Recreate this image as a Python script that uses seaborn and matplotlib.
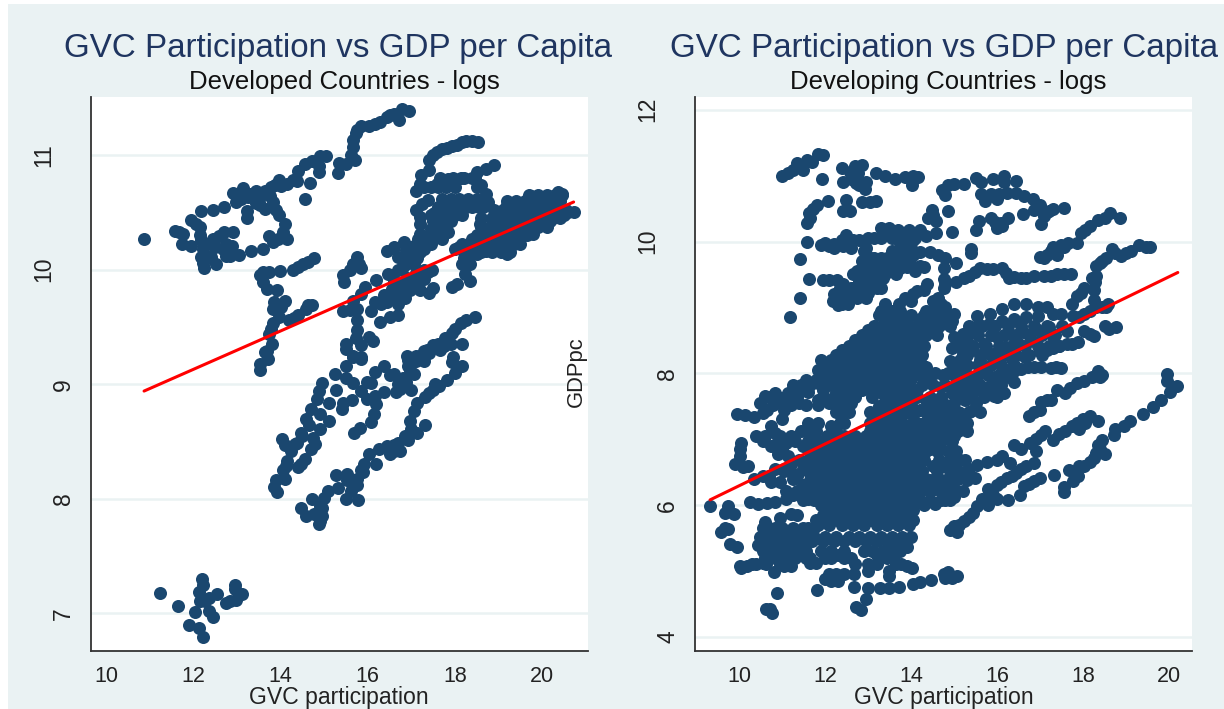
import matplotlib
matplotlib.use("Agg")
import matplotlib.pyplot as plt
import pandas as pd
import seaborn as sns
from matplotlib.patches import Rectangle

# values, (GVC participation, log GDP per capita)
dev_low = [(11.24,7.18),(11.65,7.06),(12.04,7.01),(11.91,6.9),(12.13,6.87),(12.22,6.79),(12.19,7.3),(12.22,7.25),
           (12.13,7.19),(12.15,7.11),(12.35,7.13),(12.55,7.17),(12.37,7.02),(12.44,6.97),(12.74,7.09),(12.96,7.25),
           (12.96,7.21),(12.98,7.12),(13.12,7.17),(12.27,7.11),(12.85,7.11)]
dev_left = [(10.87,10.27),(11.59,10.34),(11.68,10.33),(11.77,10.31),(11.75,10.22),(11.95,10.21),(11.95,10.43),
            (12.05,10.4),(12.18,10.51),(12.15,10.37),(12.16,10.3),(12.18,10.26),(12.22,10.18),(12.18,10.11),
            (12.24,10.01),(12.22,10.06),(12.4,10.11),(12.52,10.05),(12.44,10.27),(12.58,10.29),(12.71,10.33),
            (12.92,10.33),(12.67,10.18),(12.75,10.22),(12.89,10.21),(12.85,10.12),(13.04,10.13),(13.32,10.16),
            (12.46,10.52),(12.71,10.55),(12.98,10.59),(12.91,10.67),(13.14,10.71),(13.22,10.51),(13.22,10.45),
            (13.1,10.62),(13.25,10.63),(13.43,10.69),(13.43,10.58),(13.53,10.56),(13.65,10.53),(13.65,10.69),
            (13.75,10.64),(13.83,10.59),(13.78,10.72),(13.97,10.78),(13.88,10.74),(14.02,10.73),(14.15,10.75),
            (14.28,10.78),(14.37,10.77),(14.68,10.76),(14.57,10.62),(14.41,10.86),(14.57,10.92),(14.73,10.95),
            (14.89,10.85),(14.88,10.9),(14.91,10.99),(15.04,10.99),(13.9,10.52),(13.97,10.48),(14.1,10.4),
            (14.06,10.33),(14.15,10.27),(13.74,10.29),(13.6,10.18),(13.83,10.24),(13.95,10.27),(12.3,10.22),(12.5,10.2),
            (12.3,10.12),(12.75,10.12),(13.5,10.62),(13.3,10.66)]
dev_top = [(15.31,10.84),(15.35,10.93),(15.49,10.92),(15.71,10.96),(15.62,11.0),(15.67,11.07),(15.67,11.13),
           (15.72,11.19),(15.76,11.22),(15.85,11.25),(16.03,11.25),(16.16,11.27),(16.29,11.29),(16.43,11.33),(16.52,11.35),
           (16.61,11.36),(16.72,11.31),(16.79,11.4),(16.94,11.38)]
dev_strand_b = [(13.52,9.12),(13.52,9.18),(13.72,9.22),(13.65,9.28),(13.7,9.29),(13.81,9.35),(13.74,9.44),(13.78,9.48),
                (13.83,9.53),(13.97,9.59),(14.19,9.56),(14.3,9.58),(14.41,9.6),(14.59,9.66),(14.73,9.69),(14.62,9.69),
                (14.0,9.67),(13.83,9.66),(14.1,9.73),(13.92,9.82),(13.7,9.83),(13.6,9.89),(13.52,9.95),(13.74,9.98),
                (13.99,9.99),(14.28,10.0),(14.41,10.02),(14.64,10.07),(14.77,10.1),(14.52,10.05),(13.6,9.98),(13.85,9.72)]
dev_mid = [(15.76,10.11),(15.67,10.05),(15.85,10.01),(15.44,9.95),(15.46,9.89),(15.6,10.0),(15.8,10.05),(16.2,9.91),
           (15.94,9.85),(15.85,9.79),(15.67,9.73),(15.44,9.64),(15.76,9.66),(16.07,9.64),(16.16,9.72),(16.38,9.78),
           (16.56,9.83),(16.65,9.76),(16.7,9.6),(16.52,9.59),(16.29,9.54),(15.76,9.56),(15.76,9.47),(15.49,9.35),
           (15.49,9.31),(15.85,9.34),(16.03,9.41),(16.11,9.38),(15.67,9.25),(15.85,9.22),(15.6,9.65),(15.72,9.4),
           (16.47,9.96),(16.7,10.0),(16.88,10.05),(17.14,10.1),(16.7,10.11),(16.88,10.17),(16.43,10.16),(16.61,10.2),
           (16.83,10.24),(17.05,10.21),(17.28,10.24),(17.0,10.12),(17.28,10.0),(17.48,10.0),(17.1,9.91),(17.28,9.92),
           (16.97,9.82),(17.19,9.82),(17.41,9.8),(17.5,9.84),(16.9,9.93),(16.79,9.88),(16.85,9.75),(16.7,9.7),
           (17.38,9.98),(16.6,9.9),(16.95,10.1),(17.2,10.15),(16.3,9.7),(16.45,9.72),(16.6,9.78),(16.75,9.84),(16.9,9.9),
           (16.55,9.95),(16.8,10.02),(17.05,10.05),(16.95,10.2),(17.15,10.27),(17.3,10.18),(17.45,10.22),(17.1,9.97),(17.0,9.85)]
dev_lower = [(18.47,9.59),(18.26,9.56),(18.13,9.53),(18.0,9.48),(17.92,9.45),(17.77,9.4),(18.17,9.35),(17.9,9.35),
             (17.5,9.34),(17.28,9.29),(17.1,9.25),(16.92,9.21),(17.95,9.24),(17.65,9.3),(17.4,9.27),(17.2,9.22),
             (18.16,9.16),(18.0,9.1),(17.92,9.19),(17.82,9.04),(17.64,8.98),(17.5,8.95),(17.32,8.89),(17.14,8.84),
             (17.05,8.77),(16.97,8.68),(16.98,8.61),(17.31,8.64),(17.13,8.57),(16.92,8.51),(16.7,8.49),(16.74,8.42),
             (16.52,8.39),(16.43,8.46),(16.25,8.43),(16.2,8.3),(16.03,8.39),(15.91,8.3),(15.89,8.23),(15.76,8.17),
             (15.53,8.22),(15.26,8.21),(15.53,8.16),(15.76,8.12),(15.62,8.07),(15.49,8.0),(15.77,7.99),(15.31,8.09),
             (15.09,8.07),(15.0,8.01),(14.73,8.0),(14.91,7.94),(14.46,7.92),(14.59,7.85),(14.77,7.87),(14.95,7.85),
             (14.91,7.81),(14.88,7.78),(14.95,7.92),(16.6,8.42),(15.85,8.25),(17.35,9.3),(17.6,9.35),(17.75,9.33),(16.9,9.25),
             (17.0,9.1),(16.8,9.05),(16.7,9.0),(17.0,8.95),(17.4,8.92),(17.55,9.0),(17.1,9.2),(16.85,8.55),(16.6,8.47)]
dev_upper_diag = [(16.92,9.16),(17.05,9.09),(16.88,9.02),(16.65,8.93),(17.28,9.2),(17.05,9.2),(16.61,9.09),(16.52,9.08),
                  (16.37,9.16),(16.16,9.11),(16.38,8.93),(16.16,8.9),(15.98,9.02),(16.07,9.01),(15.85,8.94),(15.98,8.87),
                  (16.2,8.83),(16.14,8.74),(16.07,8.67),(15.82,8.62),(15.69,8.57),(16.75,8.96),(16.97,9.12),
                  (15.49,9.16),(15.24,9.09),(15.51,9.05),(15.67,9.01),(15.85,9.24),(15.67,9.24),(15.28,8.95),(14.95,9.01),
                  (14.88,8.94),(14.83,8.87),(15.11,8.84),(15.44,8.84),(15.4,8.78),(15.64,8.86),(14.91,8.74),(14.7,8.78),
                  (14.59,8.7),(14.66,8.64),(15.11,8.68),(14.91,8.61),(14.46,8.57),(14.75,8.53),(14.7,8.43),(14.37,8.49),
                  (14.03,8.52),(14.1,8.47),(14.23,8.42),(14.33,8.48),(14.55,8.35),(14.41,8.28),(14.15,8.33),(14.12,8.29),
                  (14.06,8.25),(14.1,8.17),(13.9,8.16),(13.85,8.1),(13.92,8.06),(14.8,8.48),(14.5,8.55),(14.47,8.3)]
dev_block = [(17.41,10.96),(17.41,10.87),(17.5,11.0),(17.59,11.03),(17.7,11.05),(17.82,11.06),(17.93,11.08),(18.04,11.09),(18.15,11.11),
             (18.26,11.12),(18.39,11.12),(18.53,11.11),(17.23,10.83),(17.19,10.75),(17.1,10.69),(17.28,10.72),(17.37,10.61),
             (17.25,10.57),(17.1,10.52),(17.19,10.46),(17.19,10.4),(17.19,10.31),(17.59,10.75),(17.85,10.79),(18.13,10.8),(18.4,10.8),
             (18.7,10.88),(18.9,10.91),(18.5,10.85),(18.6,10.74),(18.7,10.66),(18.76,10.59),(18.55,10.55),(18.26,10.55),(17.98,10.49),
             (17.75,10.55),(17.53,10.49),(17.75,10.43),(17.85,10.33),(17.63,10.3),(17.43,10.3),(17.45,10.72)]
dev_band = [(18.0,10.18),(18.09,10.2),(18.22,10.21),(18.31,10.11),(18.4,10.27),(18.5,10.14),(18.58,10.4),(18.6,10.3),
            (18.7,10.16),(19.16,10.55),(19.2,10.14),(19.74,10.64),(19.78,10.31),(20.19,10.42),(20.37,10.68),(20.46,10.66),
            (20.6,10.5),(20.72,10.5),(20.5,10.48),(18.17,10.05),(18.22,9.96),(18.34,9.9),(17.92,9.85),(18.04,9.87),(18.2,10.1),(18.35,10.05)]
# dense parts read row by row: (log GDP per capita, [GVC participation...])
dev_rows = [(10.15,[18.2,18.4,18.6,18.85,19.05,19.25]),(10.22,[18.15,18.35,18.55,18.75,18.95,19.15,19.35,19.5]),
            (10.3,[18.5,18.7,18.85,19.05,19.25,19.45,19.65]),(10.37,[18.6,18.8,19.0,19.2,19.35,19.55,19.75,19.9,20.1]),
            (10.45,[18.6,18.85,19.05,19.25,19.45,19.65,19.85,20.05,20.25,20.4]),(10.52,[18.9,19.1,19.3,19.5,19.7,19.9,20.1,20.35,20.55]),
            (10.6,[19.2,19.4,19.6,19.8,20.0,20.2,20.4]),(10.65,[19.7,19.9,20.1,20.3,20.45]),
            (10.8,[17.65,17.95,18.2,18.45]),(10.72,[17.6,17.8,18.0,18.5]),(10.62,[17.7,17.9,18.1,18.3,18.5,18.65]),
            (10.55,[17.6,17.8,18.0,18.2,18.4,18.65]),(10.48,[17.45,17.6,17.8,18.0,18.15]),(10.42,[17.5,17.7,17.9]),
            (10.35,[17.45,17.65,17.8]),(10.27,[17.3,17.5,17.7])]
dev_fit_x = [10.87, 20.72]
dev_fit_y = [8.94, 10.59]

dvg_top = [(11.0,10.99),(11.13,11.04),(11.25,11.08),(11.36,11.19),(11.5,11.09),(11.59,11.24),(11.7,11.2),(11.83,11.33),
           (11.95,11.31),(11.92,10.95),(12.4,11.12),(12.69,11.15),(12.86,11.16),(12.77,11.04),(12.42,10.91),(12.72,10.89),
           (12.6,10.95),(12.95,10.91),(12.92,10.8),(12.8,10.85),(13.18,11.04),(13.4,10.99),(13.63,10.95),(13.86,10.98),
           (14.04,11.0),(14.17,10.98),(14.02,10.85),(14.72,10.78),(14.78,10.7),(14.99,10.88),(15.22,10.87),(15.51,10.96),
           (15.63,10.9),(15.9,10.95),(16.15,10.99),(16.15,10.91),(16.44,10.92),(15.63,10.72),(15.72,10.62),(15.99,10.65),
           (15.85,10.72),(16.22,10.74),(16.44,10.74),(16.62,10.69),(16.83,10.65),(17.0,10.56),(16.85,10.48),(17.3,10.49),
           (17.55,10.51),(17.08,10.38),(17.01,10.26),(16.6,10.41),(16.26,10.36),(16.12,10.23),(15.99,10.21),(15.85,10.36),
           (15.58,10.31),(15.51,10.17),(11.59,9.99),(11.59,10.28),(11.63,10.43),(11.81,10.56),(12.07,10.61),(12.5,10.63),
           (12.42,10.46),(12.59,10.47),(12.86,10.6),(13.18,10.61),(13.05,10.6),(14.49,10.48),(14.87,10.47),(14.4,10.35),
           (14.58,10.31),(14.58,10.13),(14.95,10.15),(14.22,10.18),(14.04,10.02),(15.95,10.3),(17.15,10.45),(12.58,11.05),
           (11.72,10.5),(11.65,10.35),(14.5,10.4),(14.85,10.85),(16.05,10.72),(16.1,10.28),(17.2,10.47)]
dvg_outliers = [(11.41,9.74),(11.62,9.43),(11.43,9.14),(11.19,8.86)]
dvg_row10 = [(11.9,9.95),(12.1,9.93),(12.3,9.95),(12.5,10.1),(12.6,9.9),(12.8,10.03),(13.0,10.06),(13.15,10.05),(13.3,10.2),
             (13.5,10.2),(13.7,10.18),(13.95,10.18),(14.2,10.15),(13.3,10.05),(13.55,10.05),(13.75,9.98),(13.9,9.95),
             (13.95,10.05),(14.1,10.05),(12.95,9.9),(13.55,9.85),(13.75,9.85),(13.95,9.82),(14.22,9.84),(14.44,9.84),
             (14.62,9.8),(14.8,9.75),(15.05,9.68),(15.4,9.83),(15.4,9.88),(14.76,9.6),(14.76,9.43),(14.76,9.3),
             (12.0,9.98),(12.2,9.96),(12.4,10.02),(12.65,10.02),(12.2,9.9),(12.42,9.93),(13.4,10.12),(13.65,10.1),(13.85,10.1),
             (14.35,10.08),(14.0,9.9),(13.85,9.9),(13.8,9.78)]
dvg_upper_blob = [(11.95,9.42),(12.27,9.42),(12.41,9.35),(12.22,9.2),(12.18,9.1),(12.31,9.03),(12.54,9.05),(12.59,9.17),
                  (12.35,9.1),(12.45,9.15),(12.8,9.25),(12.8,9.4),(12.75,9.55),(12.95,9.65),(12.9,9.85),(13.15,9.75),
                  (13.15,9.55),(13.0,9.4),(13.0,9.22),(13.2,9.3),(13.35,9.45),(13.5,9.55),(13.75,9.6),(14.0,9.65),
                  (14.2,9.63),(13.45,9.75),(13.4,9.62),(13.75,9.75),(14.31,9.27),(14.36,9.35),(14.04,9.2),(13.86,9.15),
                  (14.15,9.25),(13.72,9.05),(13.4,9.05),(13.55,8.95),(14.63,9.15),(14.58,8.97),(14.7,9.05),(14.99,8.9),
                  (14.95,8.8),(14.72,8.85),(14.5,8.85),(13.54,8.87),(13.86,8.82),(14.2,8.82),(12.65,9.3),(12.95,9.5),(13.1,9.42),
                  (13.25,9.62),(13.25,9.42),(12.85,9.7),(13.05,9.75),(12.5,9.2),(12.4,9.05),(13.85,9.68),(14.1,9.55),(14.05,9.8),
                  (12.1,9.42),(12.35,9.3),(13.05,9.3),(14.0,9.1),(14.8,9.0)]
dvg_mid_right = [(16.99,9.77),(17.1,9.75),(17.15,9.8),(17.3,9.85),(17.4,9.8),(17.49,9.95),(17.3,9.92),(17.65,9.97),(17.85,9.98),
                 (17.94,10.13),(18.05,10.17),(18.17,10.23),(18.35,10.33),(18.5,10.35),(18.62,10.43),(18.85,10.36),
                 (18.89,9.78),(19.12,9.85),(19.3,9.95),(19.56,9.91),(18.67,9.88),(18.53,9.75),(18.4,9.68),(18.3,9.63),
                 (18.3,9.48),(18.28,9.38),(18.26,9.27),(18.26,9.12),(18.58,9.05),(18.45,9.0),(18.03,9.3),(17.95,9.22),
                 (17.85,9.17),(17.75,9.05),(17.71,9.5),(17.4,9.5),(17.1,9.48),(16.67,9.45),(16.85,9.47),(16.4,9.46),
                 (16.27,9.45),(16.2,9.52),(16.12,9.6),(15.76,9.58),(15.49,9.53),(15.22,9.45),(15.04,9.38),(14.8,9.35),
                 (15.6,9.6),(18.45,9.7),(18.75,9.82),(19.0,9.82),(19.45,9.92),(17.25,9.85),(17.4,9.9),(17.55,9.92),(18.2,9.45),
                 (17.25,9.48),(16.55,9.45),(15.35,9.47),(15.9,9.58),(17.55,9.5)]
dvg_strip = [(18.76,8.7),(18.5,8.72),(18.26,8.57),(18.03,8.64),(17.89,8.47),(17.62,8.44),(17.3,8.39),(16.99,8.34),(17.62,8.64),
             (17.3,8.57),(18.53,9.0),(18.31,9.0),(18.03,8.9),(17.76,8.87),(17.49,8.9),(17.17,9.0),(16.94,9.0),(16.67,9.05),
             (16.4,9.05),(16.12,8.97),(15.83,8.9),(15.53,8.87),(17.3,8.9),(16.94,8.87),(16.67,8.85),(16.4,8.82),(16.12,8.8),
             (15.81,8.75),(15.5,8.7),(15.2,8.6),(17.5,8.72),(17.2,8.7),(16.9,8.68),(16.6,8.62),(16.3,8.6),(16.0,8.55),
             (15.7,8.45),(15.4,8.35),(15.2,8.3),(16.8,8.5),(16.5,8.45),(16.2,8.4),(15.9,8.3),(15.6,8.2),(16.65,8.25),
             (16.35,8.22),(16.05,8.15),(15.75,8.05),(15.45,7.95),(16.2,8.05),(15.95,7.95),(15.6,7.8),(18.35,8.03),(18.44,7.98),
             (18.2,7.95),(18.03,7.89),(17.85,7.85),(17.58,7.7),(17.39,7.75),(17.26,7.6),(17.03,7.57),(16.99,7.45),(16.74,7.36),
             (17.49,8.08),(17.25,8.08),(17.03,8.1),(16.71,8.1),(16.4,8.03),(16.2,7.95),(16.4,7.87),(16.17,7.7),(15.94,7.65),
             (18.6,8.68),(18.15,8.6),(17.75,8.45),(17.45,8.42),(17.15,8.35),(18.15,8.95),(17.9,8.85),(18.4,7.95),(17.7,7.78),
             (17.15,7.6),(16.85,7.42),(17.37,8.1),(16.85,8.1),(16.55,8.07)]
dvg_fan = [(14.9,5.62),(15.08,5.59),(15.22,5.76),(15.35,5.82),(15.45,5.88),(15.53,5.98),(15.8,6.0),(15.99,6.1),(16.26,6.08),
           (15.8,6.24),(15.99,6.31),(16.22,6.41),(16.44,6.49),(16.67,6.59),(16.85,6.64),(16.53,6.16),(16.62,6.29),
           (16.85,6.36),(16.99,6.41),(17.33,6.46),(17.55,6.2),(17.55,6.28),(17.76,6.36),(17.67,6.53),(17.9,6.59),(17.88,6.45),
           (18.17,6.66),(18.31,6.79),(18.5,6.78),(18.35,6.92),(18.44,6.99),(18.71,7.07),(18.73,7.15),(18.94,7.2),(19.1,7.28),
           (19.39,7.38),(19.62,7.49),(19.8,7.6),(20.03,7.72),(19.96,7.89),(19.96,7.99),(20.19,7.81),(16.4,6.92),(16.3,6.64),
           (16.12,6.74),(16.55,6.85),(16.76,6.94),(16.9,7.0),(17.03,7.07),(17.12,7.12),(17.3,6.99),(17.45,7.08),(17.58,7.12),
           (17.85,7.24),(17.9,7.15),(18.17,7.36),(18.35,7.28),(18.05,7.25),(15.99,6.69),(15.76,6.66),(15.53,6.61),(15.13,6.69),
           (15.22,6.51),(15.49,6.41),(15.35,6.55),(16.9,6.82),(15.65,6.1),(15.9,6.15),(16.1,6.35),(16.35,6.45),(16.55,6.55),
           (15.0,5.68),(15.12,5.7),(16.75,6.32),(17.75,7.2),(18.0,7.3),(18.25,6.72),(18.4,6.85),(18.02,6.6)]
dvg_edge = [(9.32,5.99),(9.75,5.99),(9.68,5.88),(9.88,5.86),(9.59,5.6),(9.75,5.64),(9.67,5.65),(9.79,5.41),(9.95,5.37),
            (10.03,5.08),(10.2,5.08),(10.4,5.1),(10.64,5.1),(10.82,4.99),(11.05,5.08),(11.21,5.08),(10.88,4.67),(10.64,4.43),
            (10.77,4.36),(10.72,4.43),(11.81,4.72),(12.0,4.88),(12.15,4.85),(12.3,4.85),(12.68,4.95),(12.68,4.76),(12.72,4.45),
            (12.83,4.41),(12.95,4.57),(13.01,4.75),(13.27,4.75),(13.5,4.75),(13.72,4.76),(14.04,4.8),(14.22,4.84),(14.47,4.87),
            (14.76,4.95),(14.95,4.9),(15.08,4.93),(13.0,5.0),(13.5,4.93),(13.45,5.2),(13.77,5.1),(14.02,5.05),(13.0,5.1),
            (9.95,7.38),(10.15,7.37),(10.35,7.33),(10.05,6.95),(10.02,6.85),(10.03,6.75),(9.9,6.63),(10.1,6.58),(10.22,6.6),
            (10.4,7.05),(10.6,7.05),(10.85,7.1),(10.95,7.05),(11.2,7.05),(10.75,7.2),(10.5,7.55),(10.6,7.65),(10.65,7.45),
            (10.85,7.7),(11.05,7.55),(11.15,7.7),(11.3,7.65),(11.5,7.75),(11.4,7.55),(11.0,7.3),(11.05,7.45),(10.75,6.9),(11.0,6.85),
            (11.15,6.75),(10.85,6.55),(11.2,6.5),(11.5,6.55),(10.35,6.4),(10.55,6.45),(10.75,6.35),(10.95,6.35),(11.25,6.4),
            (10.25,6.05),(10.45,6.02),(10.65,6.03),(10.85,6.05),(11.1,6.1),(11.25,6.15),(10.6,5.75),(10.95,5.8),(11.2,5.87),
            (11.35,5.85),(10.05,5.05),(10.3,5.1),(10.55,5.12),(10.95,5.1),(11.65,5.12),(12.1,4.95),(12.25,4.95),(12.45,4.95),
            (13.65,5.1),(13.9,5.08),(13.5,5.0),(13.2,5.1),(14.8,4.9),(14.85,4.98),(10.9,6.78),(10.7,6.45),(11.05,6.55),(11.2,6.62),
            (11.3,7.72),(10.95,7.62),(10.75,7.62),(10.55,7.4),(10.9,6.98),(11.1,6.95),(11.35,6.45)]
dvg_blob_1 = [(10.6,5.55),(10.85,5.65),(11.1,5.6),(11.35,5.6),(11.6,5.65),(11.85,5.7),(12.1,5.7),(12.4,5.7),(12.65,5.7),(12.9,5.7),
              (13.2,5.7),(13.45,5.7),(13.7,5.7),(13.95,5.7),(10.45,5.4),(10.7,5.4),(10.95,5.4),(11.2,5.4),(11.45,5.4),(11.7,5.45),
              (11.95,5.45),(12.2,5.45),(12.45,5.45),(12.7,5.45),(12.95,5.45),(13.2,5.45),(13.45,5.45),(13.7,5.42),(13.9,5.37),
              (10.7,5.25),(10.95,5.25),(11.4,5.25),(11.65,5.2),(11.8,5.12),(12.0,5.2),(12.3,5.25),(12.6,5.2),(12.7,5.1),(13.2,5.25),
              (13.6,5.25),(13.75,5.3),(11.95,5.85),(12.2,5.85),(12.45,5.85),(12.7,5.85),(12.95,5.85),(13.2,5.85),(13.45,5.85),
              (13.7,5.85),(13.95,5.85),(11.9,6.0),(12.15,6.0),(12.4,6.0),(12.65,6.0),(12.9,6.0),(13.15,6.0),(13.4,6.0),(13.65,6.0),
              (13.95,6.0),(14.1,6.05),(11.6,6.1),(11.85,6.15),(12.1,6.15),(12.35,6.15),(12.6,6.15),(12.85,6.15),(13.1,6.15),(13.35,6.15),
              (13.6,6.15),(13.85,6.15),(14.05,6.15),(14.3,6.0),(14.55,6.02),(14.8,6.08),(15.0,6.12),(11.5,6.3),(11.75,6.3),(12.0,6.3),
              (12.25,6.3),(12.5,6.3),(12.75,6.3),(13.0,6.3),(13.25,6.3),(13.5,6.3),(13.75,6.3),(14.0,6.3),(14.3,6.25),(14.55,6.25),
              (14.8,6.25),(15.0,6.25),(11.8,6.45),(12.05,6.45),(12.3,6.45),(12.55,6.45),(12.8,6.45),(13.05,6.45),(13.3,6.45),(13.55,6.45),
              (13.8,6.45),(14.05,6.45),(14.35,6.4),(14.6,6.4),(14.85,6.4),(15.1,6.4),(11.85,6.6),(12.1,6.6),(12.35,6.6),(12.6,6.6),
              (12.85,6.6),(13.1,6.6),(13.35,6.6),(13.6,6.6),(13.85,6.6),(14.15,6.6),(14.5,6.6),(14.75,6.6),(15.0,6.55),(11.95,6.75),
              (12.2,6.75),(12.45,6.75),(12.7,6.75),(12.95,6.75),(13.2,6.75),(13.45,6.75),(13.7,6.75),(13.95,6.75),(14.2,6.75),(14.45,6.85),
              (14.7,6.85),(14.95,6.85)]
dvg_blob_2 = [(11.5,6.9),(11.75,6.9),(12.0,6.9),(12.25,6.9),(12.5,6.9),(12.75,6.9),(13.0,6.9),(13.25,6.9),(13.5,6.9),(13.75,6.9),
              (14.0,6.9),(14.25,6.95),(14.55,7.0),(14.8,7.05),(15.0,7.05),(11.65,7.1),(12.05,7.05),(12.45,7.05),(12.7,7.05),(12.95,7.05),
              (13.2,7.05),(13.45,7.05),(13.7,7.05),(13.95,7.05),(14.2,7.1),(14.45,7.15),(14.7,7.2),(14.95,7.2),(15.2,7.3),
              (12.15,7.2),(12.35,7.25),(13.15,7.2),(13.4,7.2),(13.65,7.2),(13.9,7.2),(14.15,7.25),(14.4,7.3),
              (14.65,7.35),(14.9,7.35),(15.15,7.4),(15.4,7.43),(13.2,7.38),(13.45,7.38),
              (13.7,7.38),(13.95,7.4),(14.2,7.45),(14.5,7.5),(14.75,7.55),(15.0,7.55),(15.25,7.6),(15.5,7.55),(11.85,7.6),(12.1,7.55),
              (12.35,7.55),(12.6,7.55),(13.25,7.5),(13.5,7.55),(13.75,7.55),(14.0,7.55),(14.35,7.6),(14.95,7.7),(15.25,7.72),(15.5,7.75),
              (15.75,7.68),(15.9,7.7),(11.6,7.72),(11.95,7.75),(12.25,7.7),(12.55,7.75),(12.85,7.75),(13.1,7.7),(13.35,7.7),(13.6,7.7),
              (13.85,7.72),(14.15,7.75),(14.7,7.8),(15.15,7.85),(15.45,7.9),(11.55,7.9),(11.8,7.9),(12.05,7.9),(12.3,7.9),(12.55,7.9),
              (12.8,7.9),(13.05,7.9),(13.3,7.9),(13.55,7.9),(13.8,7.9),(14.0,7.92),(14.3,7.95),(14.55,8.0),(14.85,8.0),(15.1,8.05),
              (11.85,8.05),(12.1,8.05),(12.35,8.05),(12.6,8.05),(12.85,8.05),(13.1,8.05),(13.35,8.05),(13.6,8.05),(13.85,8.05),(14.1,8.05),
              (14.35,8.1),(14.9,8.18),(15.15,8.2),(11.9,8.2),(12.15,8.2),(12.4,8.2),(12.65,8.2),(12.9,8.2),(13.15,8.2),(13.4,8.2),(13.65,8.2),
              (13.9,8.2),(14.15,8.22),(12.4,8.35),(12.65,8.35),(12.9,8.35),(13.15,8.35),(13.4,8.35),(13.65,8.35),(13.9,8.35),(14.15,8.38),
              (14.95,8.38),(15.2,8.45),(12.7,8.5),(12.95,8.5),(13.2,8.5),(13.45,8.5),(13.7,8.5),(13.95,8.5),(14.2,8.55),(15.0,8.55),
              (15.3,8.55),(13.0,8.65),(13.25,8.65),(13.5,8.65),(13.75,8.65),(14.0,8.65),(14.25,8.7),(14.5,8.68),(13.4,8.78),(13.65,8.78),
              (13.9,8.78)]
dvg_rows = [(5.2,[10.6,10.85,11.1,11.3,11.55,12.15,12.45]),
            (5.3,[10.55,10.8,11.05,11.3,11.55,11.9,12.15,12.45,12.9,13.1,13.35,13.55]),
            (5.52,[10.5,10.75,11.0,11.25,11.5,11.75,12.0,12.25,12.55,12.8,13.05,13.3,13.55,13.8,14.0]),
            (5.65,[10.55,10.7,11.0,11.25,11.5,11.75]),
            (5.78,[11.8,12.05,12.3,12.55,12.8,13.05,13.3,13.55,13.8,14.05]),
            (5.92,[12.05,12.3,12.55,12.8,13.05,13.3,13.55,13.8,14.05]),
            (6.08,[11.5,11.75,12.0,12.25,12.5,12.75,13.0,13.25,13.5,13.75,14.0,14.2,14.45,14.7,14.9]),
            (6.22,[11.1,11.35,11.55,11.7,11.95,12.2,12.45,12.7,12.95,13.2,13.45,13.7,13.95,14.2,14.45,14.7,14.95,15.2]),
            (6.38,[11.65,11.9,12.15,12.4,12.65,12.9,13.15,13.4,13.65,13.9,14.2,14.45,14.7,14.95,15.3]),
            (6.52,[11.05,11.6,11.95,12.2,12.45,12.7,12.95,13.2,13.45,13.7,13.95,14.25,14.6,14.9,15.1]),
            (6.68,[11.4,11.6,11.75,12.0,12.25,12.5,12.75,13.0,13.25,13.5,13.75,14.0,14.3,14.65,14.9,15.25]),
            (6.82,[11.65,11.85,12.1,12.35,12.6,12.85,13.1,13.35,13.6,13.85,14.1,14.35,14.6,14.85,15.05]),
            (6.97,[10.55,11.3,11.6,11.85,12.15,12.4,12.6,12.85,13.1,13.35,13.6,13.85,14.1,14.4,14.7,14.95]),
            (7.12,[11.45,11.55,11.8,12.25,13.05,13.3,13.55,13.8,14.05,14.3,14.6,14.85,15.1,15.3]),
            (7.25,[11.6,11.85,12.45,13.05,13.3,13.55,13.8,14.05,14.3,14.55,14.8,15.05,15.3]),
            (7.42,[12.25,12.45,12.55,13.05,13.35,13.6,13.85,14.1,14.35,14.6,14.85,15.1,15.35,15.6]),
            (7.52,[10.8,11.2,11.55,11.85]),
            (7.64,[10.7,11.1,11.35,11.95,12.2,12.45,12.7,13.1,13.4,13.65,13.9,14.15,14.45,14.7,15.1,15.4,15.7,16.0]),
            (7.82,[11.25,11.45,11.65,11.9,12.15,12.4,12.7,12.95,13.2,13.45,13.7,13.95,14.25,14.5,14.8,15.05,15.3,15.6,15.85,16.1]),
            (7.98,[11.95,12.2,12.45,12.7,12.95,13.2,13.45,13.7,13.95,14.2,14.45,14.75,15.0,15.3,15.55,15.8,16.05]),
            (8.12,[12.0,12.25,12.5,12.75,13.0,13.25,13.5,13.75,14.0,14.25,15.05,15.3,15.55,15.85,16.1,16.4]),
            (8.28,[12.25,12.5,12.75,13.0,13.25,13.5,13.75,14.0,14.25,15.3,15.6,15.85,16.15,16.45,16.75,17.05]),
            (8.42,[12.55,12.8,13.05,13.3,13.55,13.8,14.05,14.3,15.1,15.45,15.75,16.05,16.35,16.65,16.95,17.2,17.45]),
            (8.58,[12.85,13.1,13.35,13.6,13.85,14.1,14.35,14.6,15.3,15.55,15.85,16.15,16.45,16.75,17.05,17.35]),
            (8.72,[13.15,13.4,13.65,13.9,14.15,14.4,14.65,14.9,15.35,15.65,15.95,16.25,16.55,16.85,17.15]),
            (8.88,[13.25,13.5,13.75,14.0,14.3,14.6,14.85]),(8.95,[13.3,13.75,14.35,14.8]),
            (9.1,[14.5,14.55]),(9.15,[12.75,12.95]),(9.3,[12.6,12.85,13.1,13.3]),(9.5,[12.65,12.9,13.15,13.4,13.65]),
            (9.62,[13.05,13.3,13.6,13.9,14.3]),(9.75,[13.05,13.3,13.55])]
dvg_fit_x = [9.33, 20.2]
dvg_fit_y = [6.08, 9.53]

panel_bg = "#EAF2F3"
navy = "#1A476F"
title_navy = "#1F3560"
ink = "#222222"
xticks = [10, 12, 14, 16, 18, 20]


def to_frame(groups, rows):
    points = [p for g in groups for p in g]
    points += [(x, y) for y, xs in rows for x in xs]
    return pd.DataFrame(points, columns=["gvc", "gdp"])


def draw_panel(ax, data, fit_x, fit_y, xlim, ylim, yticks):
    sns.scatterplot(data=data, x="gvc", y="gdp", color=navy, s=88, linewidth=0, ax=ax, zorder=3, clip_on=False)
    sns.lineplot(x=fit_x, y=fit_y, color="#FF0000", linewidth=2.2, ax=ax, zorder=4)
    ax.set_xlim(xlim)
    ax.set_ylim(ylim)
    ax.set_xticks(xticks)
    ax.set_yticks(yticks)
    ax.grid(False)
    ax.yaxis.grid(True, color=panel_bg, linewidth=1.8, zorder=1)
    ax.set_axisbelow(True)
    ax.spines["top"].set_visible(False)
    ax.spines["right"].set_visible(False)
    for side in ("left", "bottom"):
        ax.spines[side].set_color("#333333")
        ax.spines[side].set_linewidth(1.3)
    ax.tick_params(axis="x", length=6, width=1.2, color="#333333", labelsize=15.5, labelcolor=ink, pad=5)
    ax.tick_params(axis="y", length=7, width=1.2, color="#333333", labelsize=16.5, labelcolor=ink)
    # the two digit labels sit further out than the one digit ones
    for tick, value in zip(ax.yaxis.get_major_ticks(), yticks):
        tick.set_pad(19 if value >= 10 else 4.5)
        tick.label1.set_rotation(90)
        tick.label1.set_va("center")
    ax.set_xlabel("GVC participation", fontsize=16.6, color=ink, labelpad=0)
    ax.set_ylabel("")


sns.set_style("white")
plt.rcParams["font.family"] = ["Liberation Sans", "DejaVu Sans"]

W, H = 1224, 709
fig = plt.figure(figsize=(W / 100, H / 100), dpi=100, facecolor="white")
fig.add_artist(Rectangle((8 / W, 0), 1 - 8 / W, 1 - 4 / H, transform=fig.transFigure, facecolor=panel_bg, edgecolor="none", zorder=-5))

ax1 = fig.add_axes([91.3 / W, 58.3 / H, 496.7 / W, 554 / H])
ax2 = fig.add_axes([695 / W, 58.3 / H, 497 / W, 554 / H])

dev = to_frame([dev_low, dev_left, dev_top, dev_strand_b, dev_mid, dev_lower, dev_upper_diag, dev_block, dev_band], dev_rows)
dvg = to_frame([dvg_top, dvg_outliers, dvg_row10, dvg_upper_blob, dvg_mid_right, dvg_strip, dvg_fan, dvg_edge, dvg_blob_1, dvg_blob_2], dvg_rows)

draw_panel(ax1, dev, dev_fit_x, dev_fit_y, (9.66, 21.05), (6.674, 11.509), [7, 8, 9, 10, 11])
draw_panel(ax2, dvg, dvg_fit_x, dvg_fit_y, (8.98, 20.53), (3.792, 12.197), [4, 6, 8, 10, 12])
ax1.xaxis.set_label_coords((339 - 91.3) / 496.7, -0.064)
ax2.xaxis.set_label_coords((944 - 695) / 497, -0.064)
ax2.set_ylabel("GDPpc", fontsize=15.8, color=ink)
ax2.yaxis.set_label_coords((587 - 695) / 497, 0.503)

title_kw = dict(ha="center", va="center", color=title_navy, fontsize=23.9)
sub_kw = dict(ha="center", va="center", color="#111111", fontsize=18.5)
fig.text(338 / W, 1 - 48 / H, "GVC Participation vs GDP per Capita", **title_kw)
fig.text(944 / W, 1 - 48 / H, "GVC Participation vs GDP per Capita", **title_kw)
fig.text(344 / W, 1 - 82 / H, "Developed Countries - logs", **sub_kw)
fig.text(948 / W, 1 - 82 / H, "Developing Countries - logs", **sub_kw)

fig.savefig("out.png", dpi=100, facecolor=fig.get_facecolor())
